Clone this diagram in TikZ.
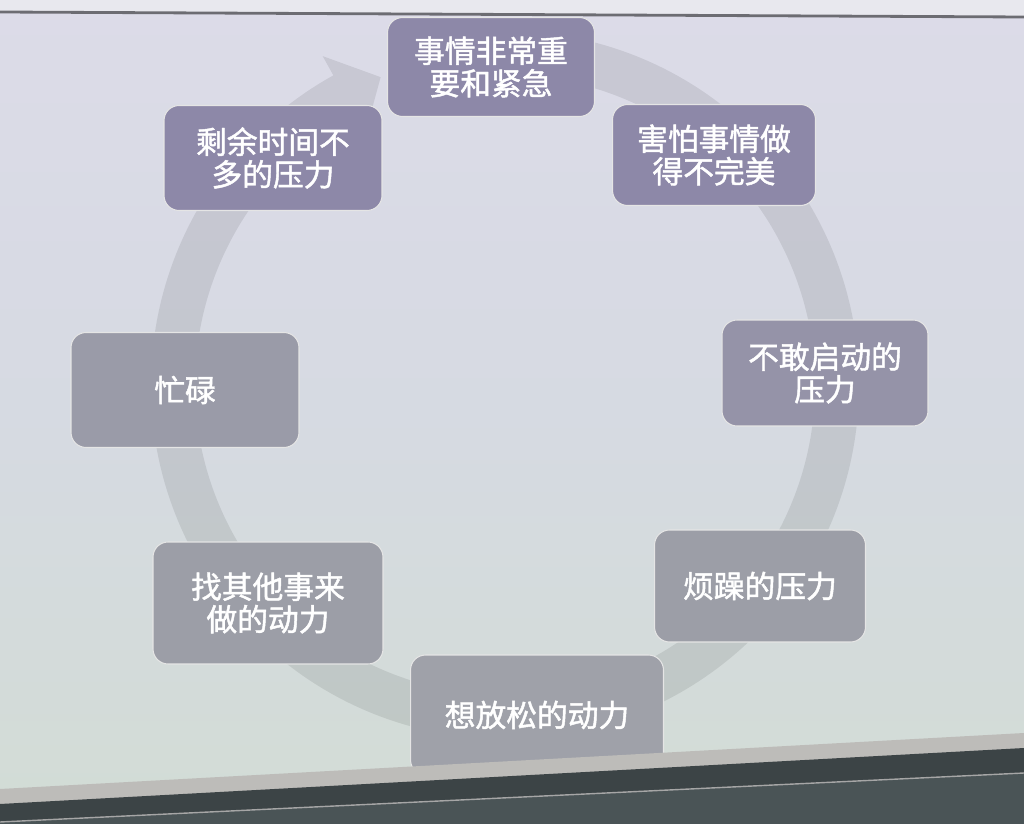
\documentclass[tikz,border=0pt]{standalone}
\usepackage{fontspec}
\newfontfamily\cjk[FakeBold=1.5]{Noto Sans CJK SC}
\definecolor{bgtop}{HTML}{DCDBE8}
\definecolor{bgmid}{HTML}{D6DAE2}
\definecolor{bgbot}{HTML}{D2DCD5}
\definecolor{boxA}{HTML}{8D88A8}
\definecolor{boxB}{HTML}{9593A8}
\definecolor{boxC}{HTML}{9A9BA8}
\definecolor{boxD}{HTML}{9C9EA7}
\definecolor{boxE}{HTML}{9FA1A9}
\definecolor{stripc}{HTML}{BDBCB9}
\definecolor{darkA}{HTML}{3C4446}
\definecolor{darkB}{HTML}{4A5456}
\definecolor{topline}{HTML}{6C6C72}
\definecolor{topbg}{HTML}{E8E8EE}
\begin{document}
\begin{tikzpicture}[x=0.02cm,y=-0.02cm,
  box/.style={rounded corners=0.3cm, draw=white!80!gray, line width=0.6pt,
    text=white, font=\cjk\fontsize{17.5}{18.5}\selectfont, align=center, inner sep=0pt},
  ringfill/.style={fill=black, fill opacity=0.085}]
\useasboundingbox (0,0) rectangle (1024,824);
% background
\shade[top color=bgtop, bottom color=bgbot, middle color=bgmid] (0,0) rectangle (1024,824);
\fill[topbg] (0,0) -- (1024,0) -- (1024,17) -- (0,12) -- cycle;
\draw[topline, line width=1.6pt] (0,12) -- (1024,17);
% ring arrow
\begin{scope}[shift={(505,385)}, yscale=-1]
  \fill[ringfill] (85:354) arc[start angle=85, end angle=-241, radius=354]
     -- (-241:376) -- (-248:332) -- (-241:288) -- (-241:310)
     arc[start angle=-241, end angle=85, radius=310] -- cycle;
\end{scope}
% boxes
\node[box, fill=boxA, minimum width=4.14cm, minimum height=1.98cm] (t1) at (491,67) {事情非常重\\要和紧急};
\node[box, fill=boxA, minimum width=4.06cm, minimum height=2.02cm] (t2) at (714,155) {害怕事情做\\得不完美};
\node[box, fill=boxB, minimum width=4.12cm, minimum height=2.12cm] (t3) at (825,373) {不敢启动的\\压力};
\node[box, fill=boxD, minimum width=4.22cm, minimum height=2.24cm] (t4) at (760,586) {烦躁的压力};
\node[box, fill=boxE, minimum width=5.06cm, minimum height=2.40cm] (t5) at (537,715) {想放松的动力};
\node[box, fill=boxD, minimum width=4.60cm, minimum height=2.44cm] (t6) at (268,603) {找其他事来\\做的动力};
\node[box, fill=boxC, minimum width=4.56cm, minimum height=2.30cm] (t7) at (185,390) {忙碌};
\node[box, fill=boxA, minimum width=4.36cm, minimum height=2.10cm] (t8) at (273,158) {剩余时间不\\多的压力};
% bottom edge of screen
\fill[stripc] (0,789) -- (1024,733) -- (1024,824) -- (0,824) -- cycle;
\fill[darkA] (0,804) -- (1024,748) -- (1024,824) -- (0,824) -- cycle;
\fill[darkB] (0,822) -- (1024,773) -- (1024,824) -- (0,824) -- cycle;
\draw[gray!70, line width=0.8pt] (0,822) -- (1024,773);
\end{tikzpicture}
\end{document}
